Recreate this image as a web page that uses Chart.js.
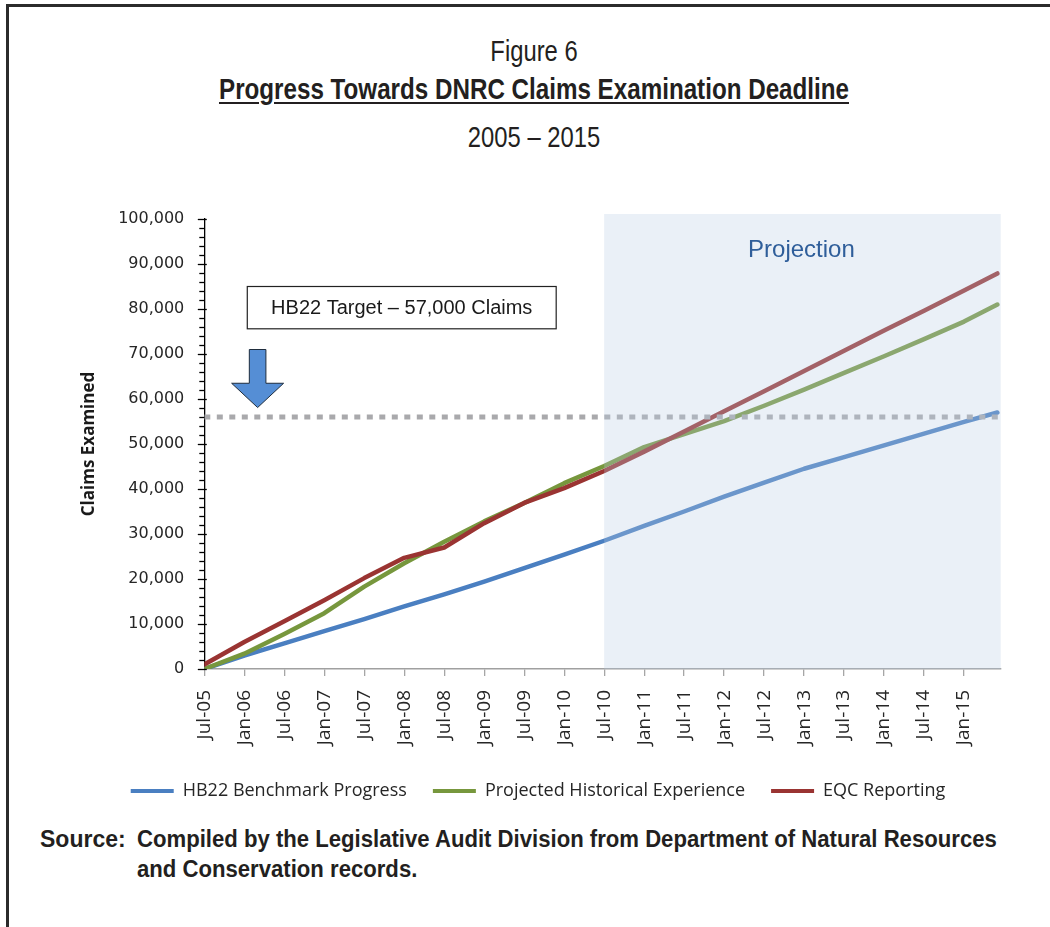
<!DOCTYPE html>
<html>
<head>
<meta charset="utf-8">
<script src="https://cdn.jsdelivr.net/npm/chart.js@4.4.1/dist/chart.umd.min.js"></script>
<style>
  body { margin: 0; background: #fff; width: 1050px; height: 927px; position: relative; overflow: hidden;
         font-family: "Liberation Sans Narrow", "Arial Narrow", "Liberation Sans", sans-serif; color: #231f20; }
  .frame-top { position: absolute; left: 6px; top: 4px; right: 0; height: 3px; background: #2b2b2b; }
  .frame-left { position: absolute; left: 6px; top: 4px; width: 3px; bottom: 0; background: #2b2b2b; }
  .t { position: absolute; left: 0; width: 1068px; text-align: center; white-space: nowrap; transform: scaleX(0.82); }
  #fig { top: 35px; font-size: 29px; }
  #title { top: 72px; font-size: 29.5px; font-weight: bold; text-decoration: underline; text-underline-offset: 3px; }
  #years { top: 121px; font-size: 29px; }
  .src { position: absolute; font-size: 23px; font-weight: bold; white-space: nowrap; }
  .narrow { transform: scaleX(0.962); transform-origin: left center; }
  #wrap { position: absolute; left: 0; top: 200px; width: 1050px; height: 610px; }
</style>
</head>
<body>
<div class="frame-top"></div>
<div class="frame-left"></div>
<div class="t" id="fig">Figure 6</div>
<div class="t" id="title">Progress Towards DNRC Claims Examination Deadline</div>
<div class="t" id="years">2005 – 2015</div>
<div id="wrap"><canvas id="myChart"></canvas></div>
<div class="src" style="left:40px; top:826px;">Source:</div>
<div class="src narrow" style="left:137px; top:826px;">Compiled by the Legislative Audit Division from Department of Natural Resources</div>
<div class="src narrow" style="left:137px; top:856px;">and Conservation records.</div>
<script>
// months counted from Jul-05
const months = [0, 6, 12, 18, 24, 30, 36, 42, 48, 54, 60, 66, 72, 78, 84, 90, 96, 102, 108, 114, 119];
const tickLabels = ['Jul-05', 'Jan-06', 'Jul-06', 'Jan-07', 'Jul-07', 'Jan-08', 'Jul-08', 'Jan-09', 'Jul-09', 'Jan-10',
  'Jul-10', 'Jan-11', 'Jul-11', 'Jan-12', 'Jul-12', 'Jan-13', 'Jul-13', 'Jan-14', 'Jul-14', 'Jan-15'];
const benchmark = [0, 3000, 5700, 8400, 11100, 13900, 16600, 19400, 22400, 25400, 28500, 31800, 35000, 38300, 41400, 44500, 47100, 49700, 52300, 54900, 57000];
const historical = [0, 3400, 7800, 12400, 18300, 23500, 28300, 32800, 36900, 41300, 45100, 49300, 52200, 55100, 58500, 62100, 65800, 69500, 73300, 77200, 81000];
const eqc = [1000, 6000, 10600, 15300, 20200, 24700, 27000, 32400, 36900, 40200, 44000, 48300, 52800, 57300, 61700, 66200, 70700, 75200, 79600, 84100, 87900];
const targetMonths = [0, 119.5];
const targetLevel = 56000;
const projectionStart = 60;
const axisMax = 119.5;

const toPoints = vals => vals.map((v, i) => ({ x: months[i], y: v }));

const annotations = {
  id: 'annotations',
  afterDatasetsDraw(chart) {
    const { ctx, chartArea: { top, bottom, right }, scales: { x, y } } = chart;
    const px = x.getPixelForValue(projectionStart);
    ctx.save();
    // projection shading over the lines
    ctx.fillStyle = 'rgba(185,205,230,0.3)';
    ctx.fillRect(px, top - 5, right - px, bottom - top + 5);
    ctx.fillStyle = '#2f5e9a';
    ctx.font = '24px "Liberation Sans", Arial, sans-serif';
    ctx.textAlign = 'center';
    ctx.textBaseline = 'middle';
    ctx.fillText('Projection', x.getPixelForValue(89.6), y.getPixelForValue(93100));

    // target label box
    const bx1 = x.getPixelForValue(6.45), bx2 = x.getPixelForValue(52.8);
    const by1 = y.getPixelForValue(85000), by2 = y.getPixelForValue(75600);
    ctx.fillStyle = '#fff';
    ctx.fillRect(bx1, by1, bx2 - bx1, by2 - by1);
    ctx.strokeStyle = '#222';
    ctx.lineWidth = 1.2;
    ctx.strokeRect(bx1, by1, bx2 - bx1, by2 - by1);
    ctx.fillStyle = '#1a1a1a';
    ctx.font = '20px "Liberation Sans", Arial, sans-serif';
    ctx.fillText('HB22 Target \u2013 57,000 Claims', (bx1 + bx2) / 2, (by1 + by2) / 2 + 1);

    // down arrow
    const ax = x.getPixelForValue(8);
    const tipY = y.getPixelForValue(58100), headY = y.getPixelForValue(63500), shaftY = y.getPixelForValue(71000);
    ctx.beginPath();
    ctx.moveTo(ax - 8.3, shaftY);
    ctx.lineTo(ax + 8.3, shaftY);
    ctx.lineTo(ax + 8.3, headY);
    ctx.lineTo(ax + 26, headY);
    ctx.lineTo(ax, tipY);
    ctx.lineTo(ax - 26, headY);
    ctx.lineTo(ax - 8.3, headY);
    ctx.closePath();
    ctx.fillStyle = '#558ed5';
    ctx.fill();
    ctx.strokeStyle = '#1f2d3d';
    ctx.lineWidth = 1;
    ctx.stroke();
    ctx.restore();
  },
  afterDraw(chart) {
    // y axis major / minor tick marks
    const { ctx, scales: { y } } = chart;
    const ax = y.right;
    ctx.save();
    ctx.strokeStyle = '#000';
    ctx.lineWidth = 1.3;
    for (let v = 0; v <= 100000; v += 2000) {
      const py = Math.round(y.getPixelForValue(v)) + 0.5;
      const major = v % 10000 === 0;
      ctx.beginPath();
      ctx.moveTo(ax - (major ? 6.5 : 5), py);
      ctx.lineTo(ax + (major ? 2.5 : 0), py);
      ctx.stroke();
    }
    ctx.restore();
  }
};

const data = {
  datasets: [
    { label: 'HB22 Benchmark Progress', data: toPoints(benchmark), borderColor: '#4a7fc1', backgroundColor: '#4a7fc1', order: 3 },
    { label: 'Projected Historical Experience', data: toPoints(historical), borderColor: '#77973d', backgroundColor: '#77973d', order: 2 },
    { label: 'EQC Reporting', data: toPoints(eqc), borderColor: '#9a3432', backgroundColor: '#9a3432', order: 1 },
    { label: 'target', data: targetMonths.map(m => ({ x: m, y: targetLevel })), borderColor: '#a9a9ac',
      borderWidth: 5, borderDash: [6, 6.5], borderCapStyle: 'butt', order: 0 }
  ]
};

const config = {
  type: 'line',
  data: data,
  options: {
    responsive: true,
    maintainAspectRatio: false,
    animation: false,
    layout: { padding: { left: 75.3, right: 49.3, top: 19, bottom: 0 } },
    elements: {
      line: { borderWidth: 4.5, tension: 0, borderJoinStyle: 'round', borderCapStyle: 'round' },
      point: { radius: 0 }
    },
    plugins: {
      tooltip: { enabled: false },
      legend: {
        position: 'bottom',
        labels: {
          filter: item => item.text !== 'target',
          sort: (a, b) => a.datasetIndex - b.datasetIndex,
          generateLabels(chart) {
            return Chart.defaults.plugins.legend.labels.generateLabels(chart).map(item => ({
              ...item, lineWidth: 0, fillStyle: item.strokeStyle
            }));
          },
          boxWidth: 43,
          boxHeight: 4,
          padding: 26,
          color: '#262626',
          font: { family: '"Open Sans", sans-serif', size: 18 }
        }
      }
    },
    scales: {
      x: {
        type: 'linear',
        min: 0,
        max: axisMax,
        afterFit(scale) { scale.height = 87; },
        afterBuildTicks(scale) { scale.ticks = scale.ticks.filter(t => t.value % 6 === 0); },
        ticks: {
          stepSize: 6,
          includeBounds: false,
          autoSkip: false,
          minRotation: 90,
          maxRotation: 90,
          padding: 14,
          color: '#262626',
          font: { family: '"Open Sans", sans-serif', size: 19 },
          callback: v => tickLabels[v / 6]
        },
        grid: { drawOnChartArea: false, drawTicks: true, tickLength: 7, color: '#a6a6a6', lineWidth: 1.3 },
        border: { display: true, color: '#a0a0a0', width: 1.5 }
      },
      y: {
        min: 0,
        max: 100000,
        afterFit(scale) { scale.width = 129; },
        ticks: {
          stepSize: 10000,
          padding: 4,
          color: '#262626',
          font: { family: '"DejaVu Sans", Verdana, sans-serif', size: 16 },
          callback: v => v.toLocaleString('en-US')
        },
        grid: { display: false, drawTicks: true, tickLength: 16 },
        border: { display: true, color: '#000', width: 1.3 },
        title: {
          display: true,
          text: 'Claims Examined',
          color: '#1a1a1a',
          padding: { top: 4 },
          font: { family: '"Open Sans", sans-serif', size: 17, weight: 'bold' }
        }
      }
    }
  },
  plugins: [annotations]
};

const ctx = document.getElementById('myChart');
new Chart(ctx, config);
</script>
</body>
</html>
